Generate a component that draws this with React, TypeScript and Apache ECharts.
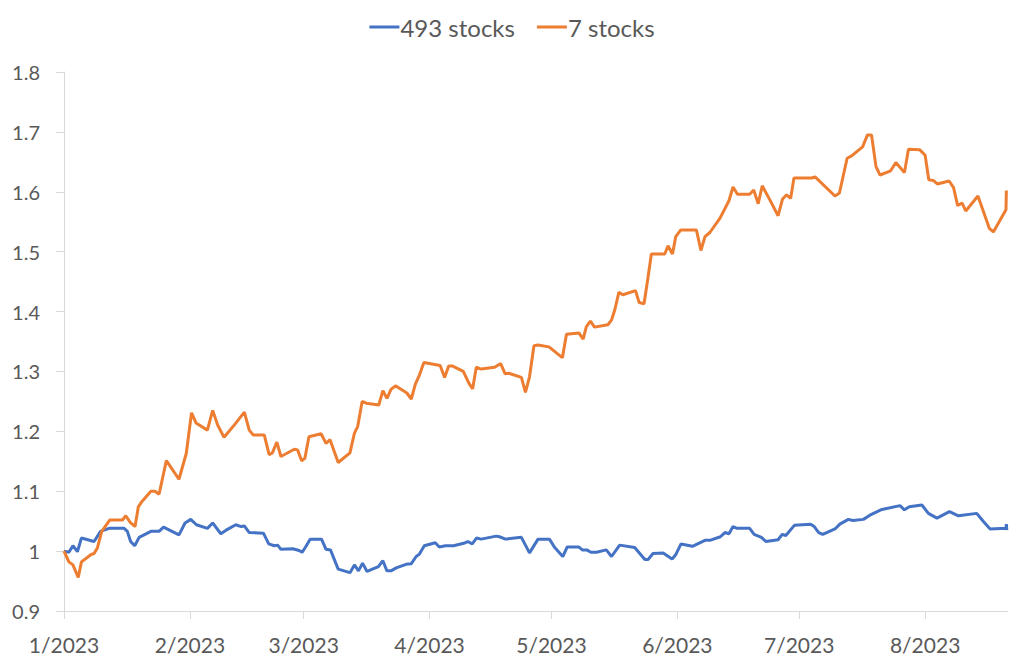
import React, { useEffect, useRef } from "react";
import * as echarts from "echarts";

// Day offsets counted from 1 Jan 2023
const monthStarts = [0, 31, 59, 90, 120, 151, 181, 212];
const monthLabels = ["1/2023", "2/2023", "3/2023", "4/2023", "5/2023", "6/2023", "7/2023", "8/2023"];

const seriesNames = ["493 stocks", "7 stocks"];

const days493 = [
  0, 1.2, 2.2, 3.3, 4.3, 7.4, 9.0, 11.1, 14.8, 15.6, 16.4, 17.4, 18.5, 21.4, 23.4, 24.5, 28.3, 29.8, 31.2, 32.6,
  35.3, 36.6, 38.6, 39.9, 42.3, 43.6, 44.4, 45.6, 49.1, 50.4, 51.8, 52.6, 53.4, 56.3, 57.9, 58.6, 59.4, 60.6, 63.4, 64.5,
  65.6, 67.5, 70.4, 71.5, 72.5, 73.5, 74.6, 77.4, 78.5, 79.5, 80.5, 81.8, 84.2, 85.5, 86.7, 87.5, 88.7, 91.4, 92.4, 93.9,
  95.9, 98.4, 99.4, 100.5, 101.6, 102.7, 106.4, 107.2, 108.7, 112.6, 114.6, 116.7, 119.5, 120.8, 122.8, 123.9, 126.7, 127.6, 128.7, 129.7,
  131.1, 133.5, 134.8, 136.8, 140.5, 143.0, 143.8, 145.0, 147.5, 149.7, 150.6, 151.9, 154.7, 157.8, 159.0, 161.6, 162.7, 163.7, 164.7, 165.7,
  168.8, 169.9, 171.7, 172.8, 175.8, 176.8, 177.7, 179.8, 183.8, 184.7, 185.8, 186.8, 189.8, 191.0, 193.1, 194.2, 196.8, 198.4, 201.1, 205.8,
  206.9, 208.1, 211.2, 212.8, 214.9, 218.0, 220.2, 224.7, 226.4, 228.0, 231.9, 232.0, 232.1,
];
const values493 = [
  1.0, 0.998, 1.009, 0.999, 1.022, 1.016, 1.033, 1.038, 1.038, 1.033, 1.016, 1.009, 1.023, 1.033, 1.033, 1.04, 1.027, 1.047, 1.053, 1.044,
  1.038, 1.047, 1.029, 1.035, 1.044, 1.041, 1.042, 1.031, 1.03, 1.012, 1.009, 1.01, 1.003, 1.004, 1.001, 0.998, 1.006, 1.02, 1.02, 1.003,
  1.002, 0.97, 0.964, 0.977, 0.967, 0.98, 0.966, 0.974, 0.984, 0.967, 0.967, 0.972, 0.978, 0.979, 0.991, 0.995, 1.009, 1.014, 1.007, 1.009,
  1.009, 1.013, 1.016, 1.012, 1.022, 1.02, 1.025, 1.024, 1.02, 1.023, 0.997, 1.02, 1.02, 1.006, 0.991, 1.007, 1.007, 1.002, 1.002, 0.998,
  0.998, 1.002, 0.991, 1.01, 1.006, 0.986, 0.986, 0.996, 0.997, 0.987, 0.994, 1.012, 1.008, 1.018, 1.018, 1.024, 1.031, 1.029, 1.041, 1.038,
  1.038, 1.028, 1.023, 1.016, 1.019, 1.028, 1.026, 1.043, 1.045, 1.041, 1.031, 1.028, 1.037, 1.045, 1.053, 1.051, 1.053, 1.06, 1.069, 1.076,
  1.069, 1.074, 1.077, 1.063, 1.055, 1.066, 1.059, 1.063, 1.049, 1.037, 1.038, 1.045, 1.035,
];

const days7 = [
  0, 1.2, 2.2, 3.5, 4.3, 6.6, 7.4, 8.2, 9.3, 11.3, 14.4, 15.2, 16.3, 17.5, 18.3, 19.2, 21.4, 22.4, 23.4, 25.2,
  28.3, 30.1, 31.4, 32.5, 35.3, 36.6, 37.8, 39.4, 42.1, 44.4, 45.6, 46.6, 49.3, 50.5, 51.3, 52.4, 53.4, 56.7, 57.5, 58.5,
  59.3, 60.3, 63.3, 64.5, 65.5, 67.5, 70.4, 71.5, 72.3, 73.4, 74.4, 77.5, 78.5, 79.5, 80.5, 81.6, 84.4, 85.5, 86.5, 87.5,
  88.6, 92.6, 93.7, 94.7, 95.7, 98.3, 99.7, 100.6, 101.5, 102.7, 106.0, 107.5, 108.6, 109.5, 112.6, 113.6, 114.6, 115.7, 116.7, 119.4,
  121.6, 122.7, 123.7, 126.8, 127.8, 128.6, 129.6, 130.6, 133.9, 134.8, 135.6, 136.6, 137.6, 140.7, 141.6, 142.8, 143.8, 144.6, 147.9, 148.7,
  149.8, 150.6, 151.8, 155.7, 156.8, 157.8, 159.0, 161.5, 163.7, 164.7, 165.8, 168.8, 169.8, 170.9, 171.9, 173.8, 175.8, 176.9, 177.9, 178.9,
  179.7, 184.1, 184.9, 189.8, 190.9, 192.8, 193.9, 196.6, 197.8, 198.8, 199.9, 200.9, 203.5, 204.8, 206.9, 207.9, 210.7, 212.0, 212.9, 214.0,
  215.0, 217.9, 219.0, 220.0, 221.1, 222.0, 225.0, 227.8, 228.8, 231.9, 232.0,
];
const values7 = [
  1.0, 0.982, 0.977, 0.956, 0.982, 0.994, 0.996, 1.005, 1.033, 1.052, 1.052, 1.059, 1.048, 1.041, 1.074, 1.083, 1.1, 1.1, 1.095, 1.151,
  1.12, 1.163, 1.231, 1.214, 1.202, 1.235, 1.211, 1.19, 1.212, 1.232, 1.202, 1.194, 1.194, 1.161, 1.164, 1.182, 1.158, 1.17, 1.169, 1.151,
  1.155, 1.191, 1.196, 1.18, 1.186, 1.148, 1.164, 1.197, 1.208, 1.25, 1.247, 1.244, 1.268, 1.255, 1.27, 1.276, 1.264, 1.254, 1.279, 1.294,
  1.315, 1.31, 1.29, 1.309, 1.309, 1.3, 1.28, 1.271, 1.307, 1.304, 1.307, 1.313, 1.296, 1.297, 1.29, 1.265, 1.291, 1.343, 1.344, 1.341,
  1.329, 1.323, 1.362, 1.364, 1.354, 1.375, 1.384, 1.374, 1.378, 1.386, 1.403, 1.432, 1.428, 1.435, 1.415, 1.413, 1.458, 1.496, 1.496, 1.51,
  1.496, 1.525, 1.536, 1.536, 1.502, 1.525, 1.532, 1.556, 1.585, 1.608, 1.596, 1.596, 1.603, 1.58, 1.61, 1.586, 1.56, 1.588, 1.595, 1.589,
  1.623, 1.623, 1.625, 1.593, 1.598, 1.656, 1.66, 1.675, 1.695, 1.695, 1.642, 1.628, 1.635, 1.649, 1.632, 1.671, 1.67, 1.661, 1.62, 1.619,
  1.613, 1.618, 1.607, 1.577, 1.581, 1.568, 1.593, 1.539, 1.533, 1.57, 1.602,
];

const toPairs = (xs: number[], ys: number[]) => xs.map((x, i) => [x, ys[i]]);

export default function App() {
  const ref = useRef<HTMLDivElement>(null);
  useEffect(() => {
    document.body.style.margin = "0";
    if (!ref.current) return;
    const chart = echarts.init(ref.current, null, { renderer: "svg" });
    const font = "Lato";
    const textColor = "#595959";
    const axisColor = "#d9d9d9";
    chart.setOption({
      animation: false,
      backgroundColor: "#ffffff",
      textStyle: { fontFamily: font },
      legend: {
        top: 10,
        left: "center",
        itemWidth: 30,
        itemHeight: 3,
        itemGap: 22,
        icon: "rect",
        textStyle: { fontFamily: font, fontSize: 24, color: textColor, padding: [0, 0, 0, -4] },
        data: seriesNames,
      },
      grid: { left: 64, right: 16, top: 72, bottom: 57, containLabel: false },
      xAxis: {
        type: "value",
        min: 0,
        max: 232.4,
        splitLine: { show: false },
        axisLine: { show: true, lineStyle: { color: axisColor, width: 1 } },
        axisTick: { show: true, length: 8, lineStyle: { color: axisColor }, customValues: monthStarts },
        axisLabel: {
          customValues: monthStarts,
          color: textColor,
          fontSize: 21,
          fontFamily: font,
          margin: 23,
          formatter: (v: number) => {
            const i = monthStarts.indexOf(Math.round(v));
            return i >= 0 ? monthLabels[i] : "";
          },
        },
      },
      yAxis: {
        type: "value",
        min: 0.9,
        max: 1.8,
        interval: 0.1,
        splitLine: { show: false },
        axisLine: { show: true, lineStyle: { color: axisColor, width: 1 } },
        axisTick: { show: true, length: 8, lineStyle: { color: axisColor } },
        axisLabel: {
          color: textColor,
          fontSize: 20,
          fontFamily: font,
          margin: 24,
          formatter: (v: number) => String(Math.round(v * 10) / 10),
        },
      },
      series: [
        {
          name: seriesNames[0],
          type: "line",
          data: toPairs(days493, values493),
          showSymbol: false,
          symbol: "none",
          lineStyle: { color: "#4472C4", width: 3 },
          itemStyle: { color: "#4472C4" },
        },
        {
          name: seriesNames[1],
          type: "line",
          data: toPairs(days7, values7),
          showSymbol: false,
          symbol: "none",
          lineStyle: { color: "#ED7D31", width: 3 },
          itemStyle: { color: "#ED7D31" },
        },
      ],
    });
    return () => chart.dispose();
  }, []);
  return <div ref={ref} style={{ width: 1024, height: 668 }} />;
}
